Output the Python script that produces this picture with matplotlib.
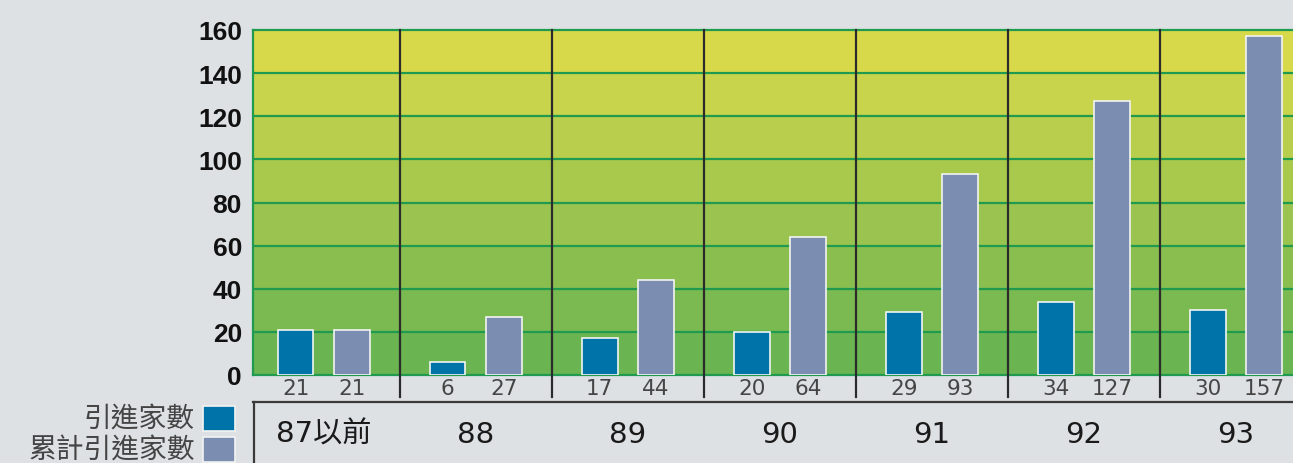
import numpy as np
import matplotlib
matplotlib.use('Agg')
import matplotlib.pyplot as plt
from matplotlib.patches import Rectangle
from matplotlib.lines import Line2D
from matplotlib.colors import to_rgb

years = ['87以前', '88', '89', '90', '91', '92', '93']
new_count = [21, 6, 17, 20, 29, 34, 30]
total_count = [21, 27, 44, 64, 93, 127, 157]
legend_labels = ['引進家數', '累計引進家數']
yticks = [0, 20, 40, 60, 80, 100, 120, 140, 160]

W, H = 1293, 464
fig = plt.figure(figsize=(W / 100, H / 100), dpi=100)
fig.patch.set_facecolor('#dde1e4')

def px(x0, y0, x1, y1):
    # pixel box (top-left origin) -> figure fractions
    return [x0 / W, (H - y1) / H, (x1 - x0) / W, (y1 - y0) / H]

ax = fig.add_axes(px(253, 31, 1312, 376))
ax.set_xlim(-0.467, 6.5)
ax.set_ylim(0, 160)

# stepped yellow -> green background bands
top = np.array(to_rgb('#d8d94a'))
bot = np.array(to_rgb('#6bb452'))
for k in range(8):
    c = bot + (top - bot) * k / 7
    ax.axhspan(k * 20, (k + 1) * 20, color=c, lw=0, zorder=0)
for v in yticks[1:-1]:
    ax.axhline(v, color='#1f9a4e', lw=1.6, zorder=1)
for s in ax.spines.values():
    s.set_color('#1f9a4e')
    s.set_linewidth(1.6)

x = np.arange(len(years))
off, bw = 0.185, 0.232
ax.bar(x - off, new_count, bw, color='#0073a8', edgecolor='#f2f4f2', lw=1.2, zorder=3)
ax.bar(x + off, total_count, bw, color='#7b8db0', edgecolor='#f2f4f2', lw=1.2, zorder=3)

# group dividers, reaching down into the value row
for i in range(len(years) - 1):
    ax.plot([i + 0.5, i + 0.5], [-10.2, 160], color='#2b2b2b', lw=1.6,
            clip_on=False, zorder=4)

tr = ax.get_xaxis_transform()
for i in range(len(years)):
    ax.text(x[i] - off, -0.037, str(new_count[i]), transform=tr, ha='center', va='center',
            fontsize=15.5, color='#454545', clip_on=False)
    ax.text(x[i] + off, -0.037, str(total_count[i]), transform=tr, ha='center', va='center',
            fontsize=15.5, color='#454545', clip_on=False)
    ax.text(x[i], -0.171, years[i], transform=tr, ha='center', va='center',
            fontsize=21, color='#1a1a1a', family=['DejaVu Sans', 'Noto Sans CJK TC'],
            clip_on=False)

ax.set_xticks([])
ax.set_yticks(yticks)
ax.tick_params(axis='y', length=0, pad=8)
for lab in ax.get_yticklabels():
    lab.set_fontfamily('Liberation Sans')
    lab.set_fontweight('bold')
    lab.set_fontsize(19)
    lab.set_color('#111111')

# category label box
fig.add_artist(Line2D([253 / W, 1], [(H - 403) / H] * 2, color='#3a3a3a', lw=1.6,
                      transform=fig.transFigure))
fig.add_artist(Line2D([254 / W, 254 / W], [(H - 403) / H, 0], color='#3a3a3a', lw=1.6,
                      transform=fig.transFigure))

# legend on the left
colors = ['#0073a8', '#7b8db0']
rows = [(407, 432), (438, 463)]
for lab, c, (y0, y1) in zip(legend_labels, colors, rows):
    fig.add_artist(Rectangle(px(203, y0, 235, y1)[:2], 32 / W, (y1 - y0) / H,
                             facecolor=c, edgecolor='#f2f4f2', lw=1.2,
                             transform=fig.transFigure))
    fig.text(195 / W, (H - (y0 + y1) / 2) / H, lab, ha='right', va='center',
             fontsize=20, color='#444444', family=['Noto Sans CJK TC', 'DejaVu Sans'])

fig.savefig('out.png', dpi=100, facecolor=fig.get_facecolor())
